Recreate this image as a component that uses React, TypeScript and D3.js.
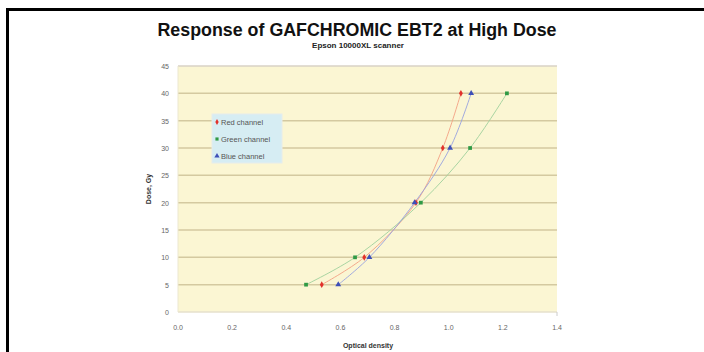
import React from "react";
import * as d3 from "d3";

const doses = [5, 10, 20, 30, 40];
const redOD = [0.531, 0.688, 0.879, 0.978, 1.045];
const greenOD = [0.473, 0.654, 0.897, 1.079, 1.215];
const blueOD = [0.592, 0.707, 0.874, 1.005, 1.083];
const xTicks = [0, 0.2, 0.4, 0.6, 0.8, 1.0, 1.2, 1.4];
const yTicks = [0, 5, 10, 15, 20, 25, 30, 35, 40, 45];
const seriesNames = ["Red channel", "Green channel", "Blue channel"];

const W = 704, H = 352;
const left = 178, right = 557, top = 66, bottom = 312;

export default function App() {
  const x = d3.scaleLinear().domain([0, 1.4]).range([left, right]);
  const y = d3.scaleLinear().domain([0, 45]).range([bottom, top]);
  const series = [
    { name: seriesNames[0], vals: redOD, color: "#e2312b", line: "#f3a083", shape: "diamond" },
    { name: seriesNames[1], vals: greenOD, color: "#2f9a45", line: "#9fd09c", shape: "square" },
    { name: seriesNames[2], vals: blueOD, color: "#3d4fb8", line: "#97a2df", shape: "triangle" },
  ];
  const line = d3
    .line<[number, number]>()
    .x((d) => x(d[0]))
    .y((d) => y(d[1]))
    .curve(d3.curveCatmullRom.alpha(0.5));
  const sym = (shape: string, size: number) =>
    d3
      .symbol()
      .type(shape === "diamond" ? d3.symbolDiamond : shape === "square" ? d3.symbolSquare : d3.symbolTriangle)
      .size(size)() as string;

  const font = "'Liberation Sans', Arial, sans-serif";
  return (
    <svg width={W} height={H} style={{ position: "absolute", left: 0, top: 0, display: "block" }}>
      <rect x={0} y={0} width={W} height={H} fill="#fff" />
      <rect x={7.5} y={9.5} width={W} height={H} fill="none" stroke="#000" strokeWidth={3} />
      <text x={357} y={36} textAnchor="middle" fontFamily={font} fontWeight="bold" fontSize={18} fill="#111"
        textLength={399} lengthAdjust="spacingAndGlyphs">
        Response of GAFCHROMIC EBT2 at High Dose
      </text>
      <text x={358} y={48} textAnchor="middle" fontFamily={font} fontWeight="bold" fontSize={8} fill="#222">
        Epson 10000XL scanner
      </text>
      <rect x={left} y={top} width={right - left} height={bottom - top} fill="#fbf6d3" />
      {yTicks.map((t) => (
        <line key={t} x1={left} x2={right} y1={y(t)} y2={y(t)}
          stroke={t === 45 ? "#d9d2c6" : t === 0 ? "#e6e0cc" : "#d4c9a0"} strokeWidth={1.5} />
      ))}
      <line x1={right} x2={right} y1={bottom} y2={bottom + 4} stroke="#ccc" />
      <line x1={left} x2={left} y1={top} y2={bottom} stroke="#ece7d0" />
      {yTicks.map((t) => (
        <text key={t} x={169} y={y(t) + 3} textAnchor="end" fontFamily={font} fontSize={7} fill="#666">
          {t}
        </text>
      ))}
      {xTicks.map((t) => (
        <text key={t} x={x(t)} y={330} textAnchor="middle" fontFamily={font} fontSize={7} fill="#666">
          {t.toFixed(1)}
        </text>
      ))}
      <text x={368} y={348} textAnchor="middle" fontFamily={font} fontWeight="bold" fontSize={7} fill="#333">
        Optical density
      </text>
      <text transform={`translate(151,${(top + bottom) / 2}) rotate(-90)`} textAnchor="middle" fontFamily={font}
        fontWeight="bold" fontSize={7} fill="#333">
        Dose, Gy
      </text>
      {series.map((s) => (
        <path key={s.name} d={line(s.vals.map((v, i) => [v, doses[i]] as [number, number])) as string}
          fill="none" stroke={s.line} strokeWidth={0.9} />
      ))}
      {series.map((s) =>
        s.vals.map((v, i) => (
          <path key={s.name + i} d={sym(s.shape, s.shape === "triangle" ? 15 : s.shape === "diamond" ? 13 : 14)}
            transform={`translate(${x(v)},${y(doses[i])})`} fill={s.color} />
        ))
      )}
      <rect x={212} y={114} width={70} height={49} fill="#d6edf3" stroke="#e6ecec" />
      {series.map((s, i) => (
        <g key={s.name} transform={`translate(217,${122 + i * 17})`}>
          <path d={sym(s.shape, s.shape === "triangle" ? 12 : 10)} fill={s.color} />
          <text x={4} y={3} fontFamily={font} fontSize={7.5} fill="#555">
            {s.name}
          </text>
        </g>
      ))}
    </svg>
  );
}
